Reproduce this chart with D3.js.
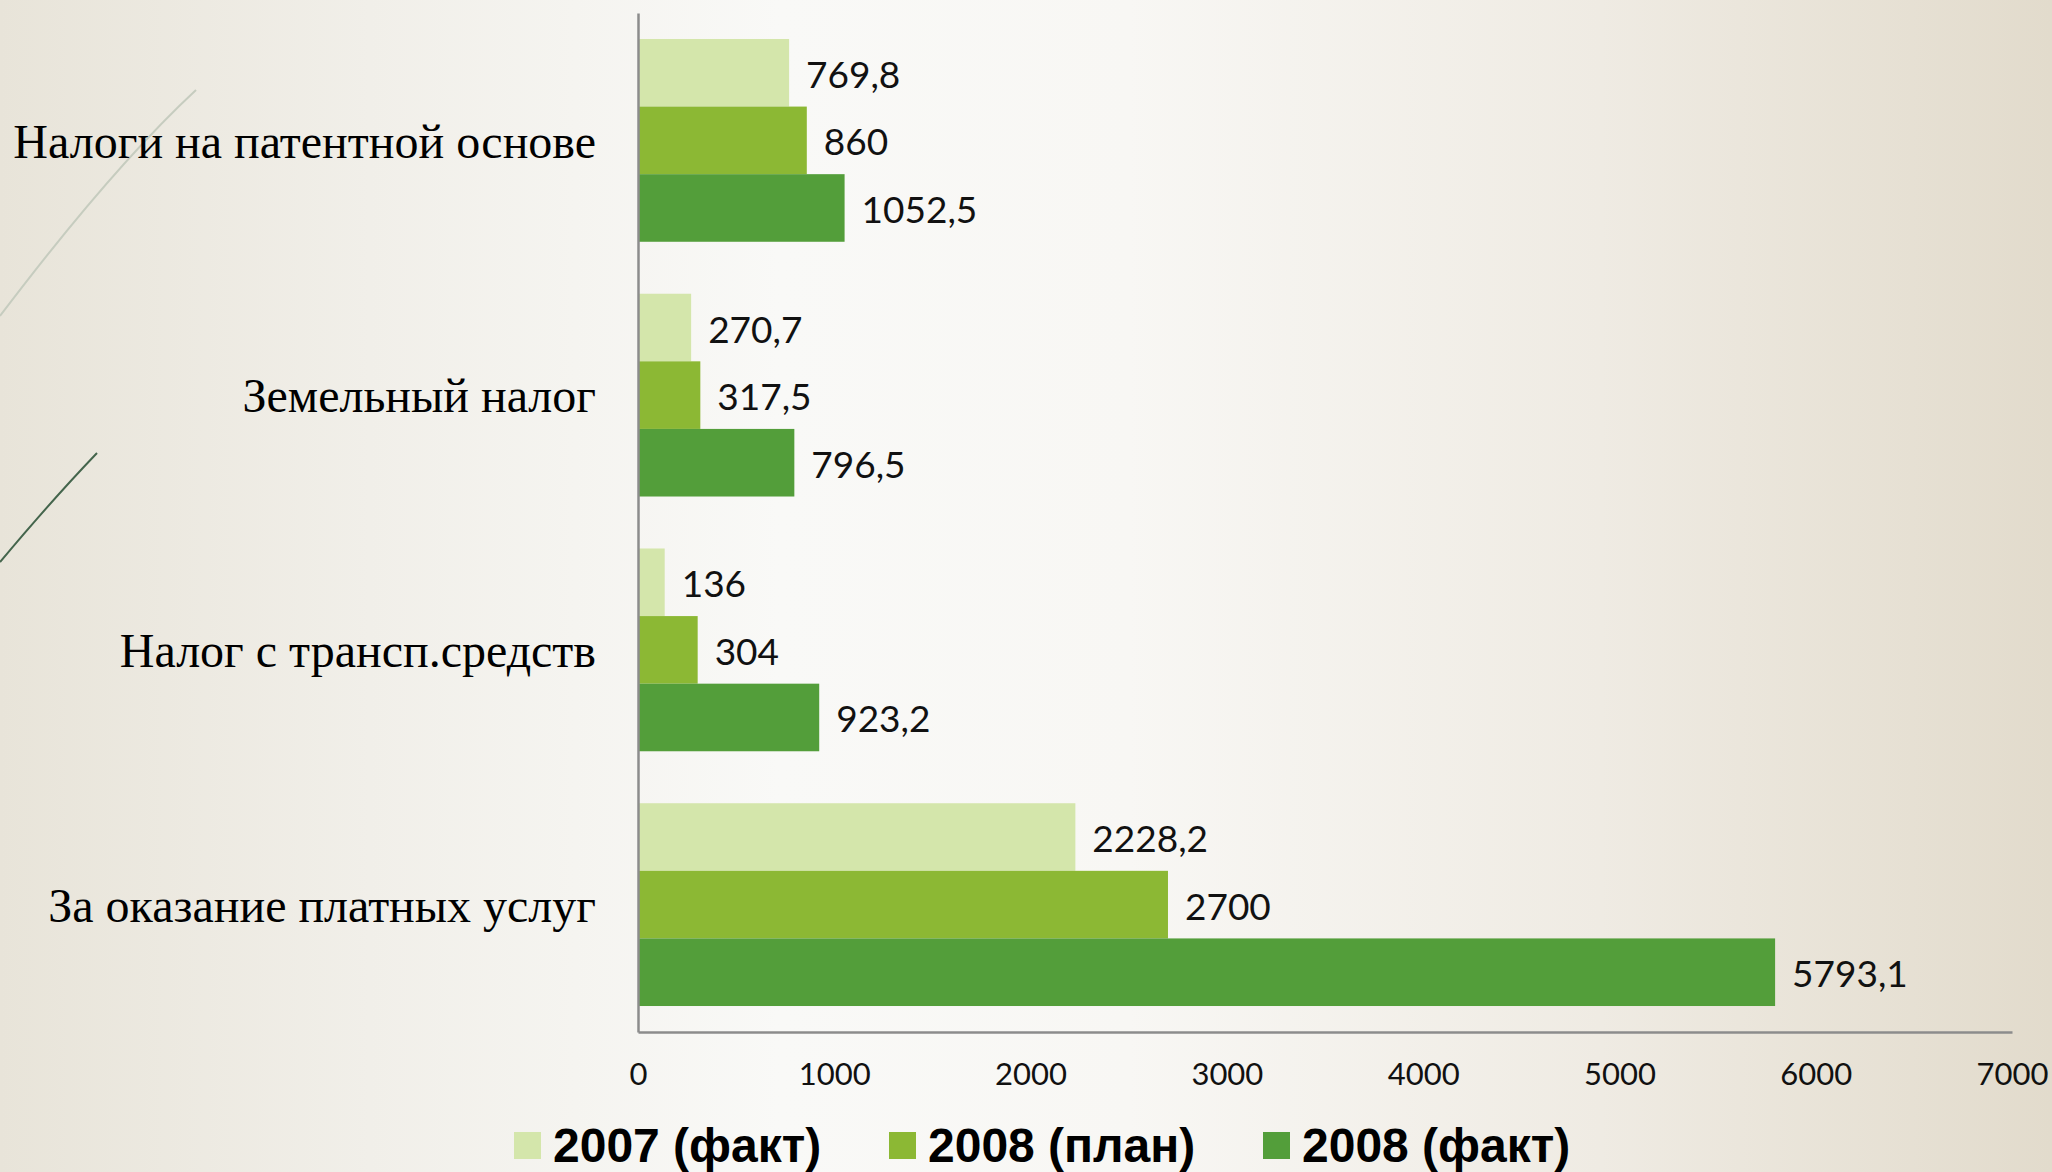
<!DOCTYPE html>
<html>
<head>
<meta charset="utf-8">
<script src="https://cdn.jsdelivr.net/npm/d3@7"></script>
<style>
  html, body { margin: 0; padding: 0; }
  body { width: 2052px; height: 1172px; overflow: hidden; }
</style>
</head>
<body>
<div id="chart"></div>
<script>
const categories = ["Налоги на патентной основе", "Земельный налог", "Налог с трансп.средств", "За оказание платных услуг"];
const seriesNames = ["2007 (факт)", "2008 (план)", "2008 (факт)"];
const fact2007 = [769.8, 270.7, 136, 2228.2];
const plan2008 = [860, 317.5, 304, 2700];
const fact2008 = [1052.5, 796.5, 923.2, 5793.1];
const xTicks = [0, 1000, 2000, 3000, 4000, 5000, 6000, 7000];
const colors = ["#d4e6ab", "#8cb834", "#539e3a"];

const width = 2052, height = 1172;
const plot = { left: 638, right: 2012, top: 13, bottom: 1032 };

const svg = d3.select("#chart").append("svg")
  .attr("width", width)
  .attr("height", height);

/* background */
const defs = svg.append("defs");
const bg = defs.append("linearGradient").attr("id", "bg")
  .attr("x1", "0%").attr("x2", "100%").attr("y1", "0%").attr("y2", "0%");
[["0%", "#e8e4d9"], ["18%", "#f1efe9"], ["38%", "#f9f9f7"], ["55%", "#f8f7f4"], ["78%", "#efebe3"], ["100%", "#e2dbcc"]]
  .forEach(s => bg.append("stop").attr("offset", s[0]).attr("stop-color", s[1]));
svg.append("rect").attr("width", width).attr("height", height).attr("fill", "url(#bg)");

/* decorative strokes on the left */
svg.append("path")
  .attr("d", "M0,316 Q112,168 196,90")
  .attr("fill", "none").attr("stroke", "#c6ccbf").attr("stroke-width", 2);
svg.append("path")
  .attr("d", "M0,562 Q52,500 97,453")
  .attr("fill", "none").attr("stroke", "#44654c").attr("stroke-width", 2);

/* scales */
const y = d3.scaleBand()
  .domain(categories)
  .range([plot.top, plot.bottom])
  .paddingInner(0.204)
  .paddingOuter(0.102);
const ySub = d3.scaleBand()
  .domain(seriesNames)
  .range([0, y.bandwidth()]);
const x = d3.scaleLinear()
  .domain([0, 7000])
  .range([plot.left, plot.right]);

const rows = categories.map((c, i) => ({
  cat: c,
  vals: [fact2007[i], plan2008[i], fact2008[i]]
}));

/* bars */
const groups = svg.selectAll("g.grp")
  .data(rows)
  .enter().append("g")
  .attr("class", "grp")
  .attr("transform", d => `translate(0,${y(d.cat)})`);

groups.selectAll("rect")
  .data(d => d.vals.map((v, j) => ({ name: seriesNames[j], v: v, j: j })))
  .enter().append("rect")
  .attr("x", x(0))
  .attr("y", d => ySub(d.name))
  .attr("width", d => x(d.v) - x(0))
  .attr("height", ySub.bandwidth())
  .attr("fill", d => colors[d.j]);

groups.selectAll("text")
  .data(d => d.vals.map((v, j) => ({ name: seriesNames[j], v: v })))
  .enter().append("text")
  .attr("x", d => x(d.v) + 17)
  .attr("y", d => ySub(d.name) + ySub.bandwidth() / 2 + 15)
  .attr("font-family", "Lato, 'Open Sans', sans-serif")
  .attr("font-size", 37)
  .attr("fill", "#111")
  .text(d => String(d.v).replace(".", ","));

/* axes */
const xAxis = d3.axisBottom(x).tickValues(xTicks).tickSize(0).tickPadding(31)
  .tickFormat(d3.format("d"));
const gx = svg.append("g")
  .attr("transform", `translate(0,${plot.bottom})`)
  .call(xAxis);
gx.select(".domain").attr("stroke", "#8c8c8c").attr("stroke-width", 2.5);
gx.selectAll("text")
  .attr("font-family", "Lato, 'Open Sans', sans-serif")
  .attr("font-size", 31)
  .attr("fill", "#111");

const yAxis = d3.axisLeft(y).tickSize(0).tickPadding(42);
const gy = svg.append("g")
  .attr("transform", `translate(${plot.left},0)`)
  .call(yAxis);
gy.select(".domain").attr("stroke", "#8c8c8c").attr("stroke-width", 2.5);
gy.selectAll("text")
  .attr("font-family", "'Liberation Serif', 'Times New Roman', serif")
  .attr("font-size", 48)
  .attr("fill", "#000")
  .attr("dy", "0.36em");

/* legend */
const legendX = [514, 889, 1263];
const legend = svg.selectAll("g.leg")
  .data(seriesNames)
  .enter().append("g")
  .attr("class", "leg")
  .attr("transform", (d, i) => `translate(${legendX[i]},1132)`);
legend.append("rect")
  .attr("width", 27).attr("height", 27)
  .attr("fill", (d, i) => colors[i]);
legend.append("text")
  .attr("x", 39).attr("y", 30)
  .attr("font-family", "'Liberation Sans', Arial, sans-serif")
  .attr("font-weight", "bold")
  .attr("font-size", 48)
  .attr("fill", "#000")
  .text(d => d);
</script>
</body>
</html>
